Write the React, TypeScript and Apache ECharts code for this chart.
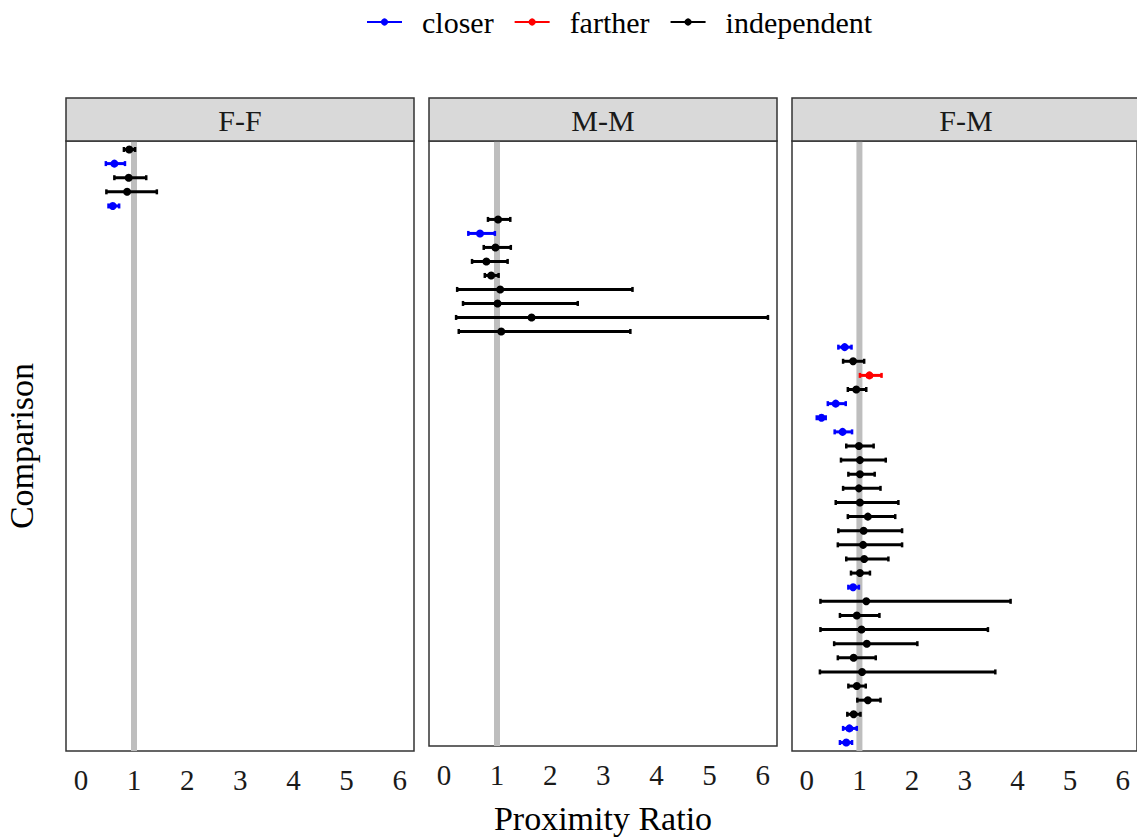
import React, { useEffect, useRef } from "react";
import * as echarts from "echarts";

// ---- data ----
const panels = ["F-F", "M-M", "F-M"];
const directions = ["closer", "farther", "independent"];
const directionColors = ["#0000ff", "#ff0000", "#000000"];
const xTicks = [0, 1, 2, 3, 4, 5, 6];
const refX = 1;

// F-F comparisons
const ffEst = [0.91, 0.63, 0.9, 0.87, 0.6];
const ffLow = [0.81, 0.47, 0.63, 0.48, 0.52];
const ffHigh = [1.02, 0.83, 1.23, 1.43, 0.72];
const ffDir = ["independent", "closer", "independent", "independent", "closer"];

// M-M comparisons
const mmEst = [1.02, 0.68, 0.97, 0.8, 0.89, 1.06, 1.01, 1.65, 1.08];
const mmLow = [0.83, 0.46, 0.75, 0.53, 0.77, 0.25, 0.36, 0.23, 0.28];
const mmHigh = [1.25, 0.96, 1.26, 1.2, 1.03, 3.55, 2.52, 6.1, 3.51];
const mmDir = [
  "independent", "closer", "independent", "independent", "independent",
  "independent", "independent", "independent", "independent",
];

// F-M comparisons
const fmEst = [
  0.72, 0.88, 1.19, 0.94, 0.55, 0.28, 0.68, 0.99, 1.01, 1.01,
  0.99, 1.01, 1.16, 1.08, 1.07, 1.09, 1.01, 0.88, 1.13, 0.95,
  1.04, 1.14, 0.89, 1.05, 0.95, 1.16, 0.89, 0.81, 0.75,
];
const fmLow = [
  0.6, 0.69, 1.01, 0.78, 0.4, 0.19, 0.53, 0.75, 0.65, 0.79,
  0.69, 0.55, 0.78, 0.6, 0.59, 0.75, 0.84, 0.79, 0.26, 0.63,
  0.26, 0.52, 0.59, 0.25, 0.79, 0.96, 0.77, 0.69, 0.63,
];
const fmHigh = [
  0.85, 1.09, 1.42, 1.13, 0.74, 0.36, 0.86, 1.27, 1.5, 1.29,
  1.4, 1.74, 1.68, 1.81, 1.81, 1.55, 1.2, 0.99, 3.87, 1.38,
  3.44, 2.1, 1.31, 3.58, 1.12, 1.4, 1.02, 0.95, 0.86,
];
const fmDir = [
  "closer", "independent", "farther", "independent", "closer", "closer", "closer",
  "independent", "independent", "independent", "independent", "independent",
  "independent", "independent", "independent", "independent", "independent",
  "closer", "independent", "independent", "independent", "independent",
  "independent", "independent", "independent", "independent", "independent",
  "closer", "closer",
];

const panelData = [
  { est: ffEst, low: ffLow, high: ffHigh, dir: ffDir },
  { est: mmEst, low: mmLow, high: mmHigh, dir: mmDir },
  { est: fmEst, low: fmLow, high: fmHigh, dir: fmDir },
];

const FONT = "'Liberation Serif', 'Times New Roman', serif";

export default function App() {
  const ref = useRef<HTMLDivElement>(null);

  useEffect(() => {
    if (!ref.current) return;
    const chart = echarts.init(ref.current, null, { renderer: "svg" });

    const totalRows = panelData.reduce((s, p) => s + p.est.length, 0);
    const gridLefts = [66, 429, 792];
    const gridWidth = 348;
    const gridTop = 141;
    const gridHeight = 610;

    const grids = gridLefts.map((l) => ({
      left: l,
      top: gridTop,
      width: gridWidth,
      height: gridHeight,
      show: true,
      borderColor: "#333333",
      borderWidth: 1.5,
      backgroundColor: "#ffffff",
      containLabel: false,
    }));

    const xAxes = gridLefts.map((_, i) => ({
      type: "value",
      gridIndex: i,
      min: -0.28,
      max: 6.27,
      axisLine: { show: false },
      axisTick: { show: false },
      splitLine: { show: false },
      axisLabel: {
        customValues: xTicks,
        formatter: (v: number) => String(v),
        fontFamily: FONT,
        fontSize: 29,
        color: "#1a1a1a",
        margin: 14,
      },
      name: i === 1 ? "Proximity Ratio" : "",
      nameLocation: "middle",
      nameGap: 55,
      nameTextStyle: { fontFamily: FONT, fontSize: 34, color: "#000" },
    }));

    const yAxes = gridLefts.map((_, i) => ({
      type: "value",
      gridIndex: i,
      inverse: true,
      min: -0.6,
      max: totalRows - 1 + 0.6,
      axisLine: { show: false },
      axisTick: { show: false },
      splitLine: { show: false },
      axisLabel: { show: false },
      name: i === 0 ? "Comparison" : "",
      nameLocation: "middle",
      nameRotate: 90,
      nameGap: 28,
      nameTextStyle: { fontFamily: FONT, fontSize: 34, color: "#000" },
    }));

    const series: any[] = [];
    // legend icon carriers
    directions.forEach((d, k) => {
      series.push({
        name: d,
        type: "line",
        xAxisIndex: 0,
        yAxisIndex: 0,
        data: [],
        symbol: "circle",
        symbolSize: 7,
        itemStyle: { color: directionColors[k] },
        lineStyle: { color: directionColors[k], width: 3 },
      });
    });

    // reference line at x = 1 in each panel
    gridLefts.forEach((_, i) => {
      series.push({
        name: "reference",
        type: "custom",
        xAxisIndex: i,
        yAxisIndex: i,
        silent: true,
        z: 1,
        data: [[refX, 0]],
        renderItem: (params: any, api: any) => {
          const cs = params.coordSys;
          const x = api.coord([api.value(0), 0])[0];
          return {
            type: "line",
            shape: { x1: x, y1: cs.y, x2: x, y2: cs.y + cs.height },
            style: { stroke: "#bebebe", lineWidth: 6 },
          };
        },
      });
    });

    let offset = 0;
    panelData.forEach((p, i) => {
      directions.forEach((d, k) => {
        const data: number[][] = [];
        p.est.forEach((e, j) => {
          if (p.dir[j] === d) data.push([p.low[j], p.high[j], offset + j, e]);
        });
        if (!data.length) return;
        series.push({
          name: d,
          type: "custom",
          xAxisIndex: i,
          yAxisIndex: i,
          z: 3,
          itemStyle: { color: directionColors[k] },
          encode: { x: [0, 1, 3], y: 2 },
          data,
          renderItem: (params: any, api: any) => {
            const y = api.value(2);
            const p0 = api.coord([api.value(0), y]);
            const p1 = api.coord([api.value(1), y]);
            const pc = api.coord([api.value(3), y]);
            const color = directionColors[k];
            const cap = 2.5;
            return {
              type: "group",
              children: [
                {
                  type: "line",
                  shape: { x1: p0[0], y1: p0[1], x2: p1[0], y2: p1[1] },
                  style: { stroke: color, lineWidth: 3 },
                },
                {
                  type: "line",
                  shape: { x1: p0[0], y1: p0[1] - cap, x2: p0[0], y2: p0[1] + cap },
                  style: { stroke: color, lineWidth: 2.5 },
                },
                {
                  type: "line",
                  shape: { x1: p1[0], y1: p1[1] - cap, x2: p1[0], y2: p1[1] + cap },
                  style: { stroke: color, lineWidth: 2.5 },
                },
                {
                  type: "circle",
                  shape: { cx: pc[0], cy: pc[1], r: 4 },
                  style: { fill: color },
                },
              ],
            };
          },
        });
      });
      offset += p.est.length;
    });

    const graphic: any[] = [];
    panels.forEach((name, i) => {
      graphic.push({
        type: "rect",
        shape: { x: gridLefts[i], y: 98, width: gridWidth, height: 43 },
        style: { fill: "#d9d9d9", stroke: "#333333", lineWidth: 1.5 },
        z: 10,
      });
      graphic.push({
        type: "text",
        x: gridLefts[i] + gridWidth / 2,
        y: 120,
        style: {
          text: name,
          fontFamily: FONT,
          fontSize: 30,
          fill: "#1a1a1a",
          align: "center",
          verticalAlign: "middle",
        },
        z: 11,
      });
    });

    chart.setOption({
      animation: false,
      backgroundColor: "#ffffff",
      legend: {
        data: directions,
        left: 361,
        top: 2,
        itemWidth: 35,
        itemHeight: 9,
        itemGap: 20,
        textStyle: {
          fontFamily: FONT,
          fontSize: 30,
          color: "#000",
          padding: [0, 0, 0, 15],
        },
      },
      grid: grids,
      xAxis: xAxes,
      yAxis: yAxes,
      series,
      graphic,
    });

    return () => chart.dispose();
  }, []);

  return (
    <div
      ref={ref}
      style={{ position: "absolute", left: 0, top: 0, width: 1137, height: 840 }}
    />
  );
}
